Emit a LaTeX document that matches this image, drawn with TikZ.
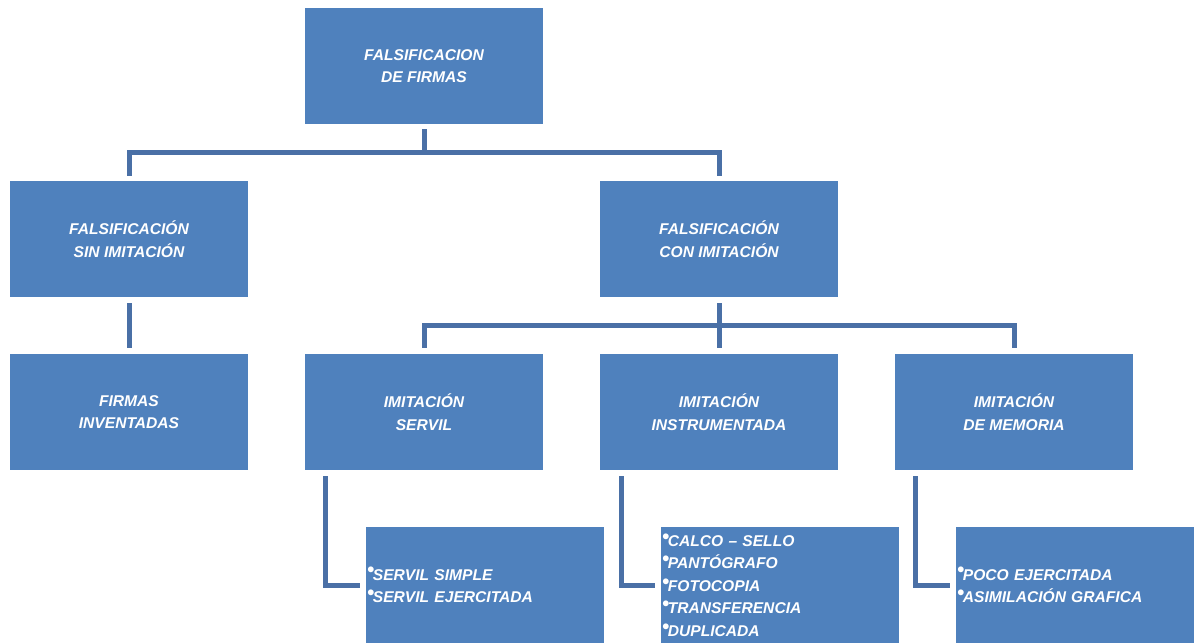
\documentclass[tikz,border=0pt]{standalone}
\usepackage{fontspec}
\setmainfont{Liberation Sans}
\definecolor{cajaazul}{HTML}{4F81BD}
\definecolor{lineaazul}{HTML}{4A70A6}
\newcommand{\pto}{\raisebox{.2em}{\scalebox{1.3}{\textbullet}}\hspace{-.6pt}}
\tikzset{
    caja/.style = {fill=cajaazul, text=white, inner sep=0pt, minimum width=119pt,
        minimum height=58pt, align=center, font=\fontsize{7.8}{11.25}\selectfont\bfseries\itshape},
    lista/.style = {caja, align=left, text width=118pt, inner xsep=0.5pt},
    enlace/.style = {draw=lineaazul, line width=2.5pt}
}
\begin{document}
\begin{tikzpicture}[x=0.5pt, y=-0.5pt]
    \useasboundingbox (0,0) rectangle (1199,643);
    % niveles superiores
    \node[caja] (falsif) at (424,66) {FALSIFICACION\\DE FIRMAS};
    \node[caja] (sinimit) at (129,239) {FALSIFICACIÓN\\SIN IMITACIÓN};
    \node[caja] (conimit) at (719,239) {FALSIFICACIÓN\\CON IMITACIÓN};
    \node[caja] (inventadas) at (129,412) {FIRMAS\\INVENTADAS};
    \node[caja] (servil) at (424,412) {IMITACIÓN\\SERVIL};
    \node[caja] (instrum) at (719,412) {IMITACIÓN\\INSTRUMENTADA};
    \node[caja] (memoria) at (1014,412) {IMITACIÓN\\DE MEMORIA};
    % listas
    \node[lista] (servilL) at (485,585) {\pto SERVIL SIMPLE\\\pto SERVIL EJERCITADA};
    \node[lista] (instrumL) at (780,585) {\pto CALCO – SELLO\\\pto PANTÓGRAFO\\\pto FOTOCOPIA\\\pto TRANSFERENCIA\\\pto DUPLICADA};
    \node[lista] (memoriaL) at (1075,585) {\pto POCO EJERCITADA\\\pto ASIMILACIÓN GRAFICA};
    % conectores
    \coordinate (j1) at (424,152.5);
    \coordinate (j2) at (719,325.5);
    \draw[enlace] ([yshift=-2.5pt]falsif.south) -- (j1);
    \draw[enlace] ([yshift=2.5pt]sinimit.north) |- (j1) -| ([yshift=2.5pt]conimit.north);
    \draw[enlace] ([yshift=-3pt]sinimit.south) -- ([yshift=3pt]inventadas.north);
    \draw[enlace] ([yshift=-3pt]conimit.south) -- ([yshift=3pt]instrum.north);
    \draw[enlace] ([yshift=3pt]servil.north) |- (j2) -| ([yshift=3pt]memoria.north);
    \draw[enlace] ([xshift=10.5pt,yshift=-3pt]servil.south west) |- ([xshift=-3pt]servilL.west);
    \draw[enlace] ([xshift=11pt,yshift=-3pt]instrum.south west) |- ([xshift=-3pt]instrumL.west);
    \draw[enlace] ([xshift=10.5pt,yshift=-3pt]memoria.south west) |- ([xshift=-3pt]memoriaL.west);
\end{tikzpicture}
\end{document}
